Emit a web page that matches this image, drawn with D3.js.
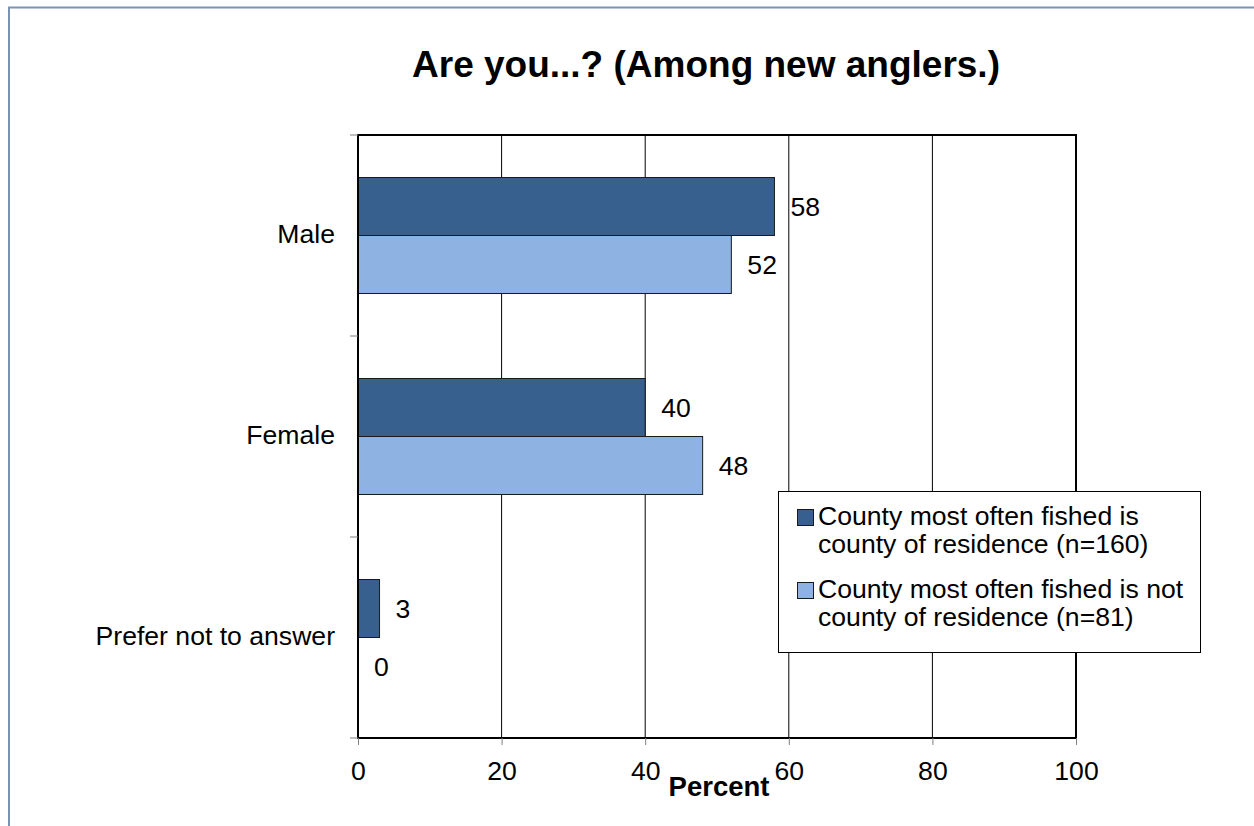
<!DOCTYPE html>
<html>
<head>
<meta charset="utf-8">
<script src="https://cdn.jsdelivr.net/npm/d3@7"></script>
<style>
  html, body { margin: 0; padding: 0; background: #ffffff; }
  svg { display: block; }
  text { font-family: "Liberation Sans", Arial, sans-serif; fill: #000; }
</style>
</head>
<body>
<svg id="chart" width="1254" height="826"></svg>
<script>
// Survey answers, percent of respondents
const categories = ["Male", "Female", "Prefer not to answer"];
const seriesNames = [
  ["County most often fished is", "county of residence (n=160)"],
  ["County most often fished is not", "county of residence (n=81)"]
];
const residentValues = [58, 40, 3];
const nonResidentValues = [52, 48, 0];
const xTickValues = [0, 20, 40, 60, 80, 100];
const titleText = "Are you...? (Among new anglers.)";
const xAxisTitle = "Percent";

const colors = ["#37608f", "#8eb3e2"];
const series = [residentValues, nonResidentValues];
const fontSize = "26.6px";

const svg = d3.select("#chart");

// outer chart frame (runs off the right and bottom edges)
svg.append("rect")
  .attr("x", 9).attr("y", 7.5)
  .attr("width", 1300).attr("height", 900)
  .attr("fill", "none")
  .attr("stroke", "#7a93b3")
  .attr("stroke-width", 2);

const plot = { left: 358, right: 1076, top: 135, bottom: 738 };

const x = d3.scaleLinear().domain([0, 100]).range([plot.left, plot.right]);
const y = d3.scaleBand().domain(categories)
  .range([plot.top, plot.bottom])
  .paddingInner(0.423).paddingOuter(0.2115);
const ySeries = d3.scaleBand().domain([0, 1]).range([0, y.bandwidth()]);

// title
svg.append("text")
  .attr("x", 706).attr("y", 77)
  .attr("text-anchor", "middle")
  .style("font-size", "37px").style("font-weight", "bold")
  .text(titleText);

// vertical gridlines
svg.append("g").selectAll("line")
  .data(xTickValues.filter(d => d > 0 && d < 100))
  .join("line")
  .attr("x1", d => x(d)).attr("x2", d => x(d))
  .attr("y1", plot.top).attr("y2", plot.bottom)
  .attr("stroke", "#000").attr("stroke-width", 1);

// bars
series.forEach((vals, si) => {
  svg.append("g").selectAll("rect")
    .data(vals.map((v, i) => ({ v, c: categories[i] })))
    .join("rect")
    .filter(d => d.v > 0)
    .attr("x", x(0))
    .attr("y", d => y(d.c) + ySeries(si))
    .attr("width", d => x(d.v) - x(0))
    .attr("height", ySeries.bandwidth())
    .attr("fill", colors[si])
    .attr("stroke", "#1a1a1a")
    .attr("stroke-width", 1);

  svg.append("g").selectAll("text")
    .data(vals.map((v, i) => ({ v, c: categories[i] })))
    .join("text")
    .attr("x", d => x(d.v) + 16)
    .attr("y", d => y(d.c) + ySeries(si) + ySeries.bandwidth() / 2)
    .attr("dy", "0.35em")
    .style("font-size", fontSize)
    .text(d => d3.format(".0f")(d.v));
});

// plot frame
svg.append("rect")
  .attr("x", plot.left).attr("y", plot.top)
  .attr("width", plot.right - plot.left).attr("height", plot.bottom - plot.top)
  .attr("fill", "none").attr("stroke", "#000").attr("stroke-width", 2);

// x axis
const xAxis = d3.axisBottom(x).tickValues(xTickValues).tickSize(7).tickPadding(16);
const gx = svg.append("g").attr("transform", `translate(0,${plot.bottom})`).call(xAxis);
gx.select(".domain").remove();
gx.selectAll(".tick line").attr("stroke", "#808080");
gx.selectAll(".tick text")
  .style("font-size", fontSize)
  .style("font-family", "'Liberation Sans', Arial, sans-serif")
  .attr("fill", "#000");

svg.append("text")
  .attr("x", 719).attr("y", 796)
  .attr("text-anchor", "middle")
  .style("font-size", "27.5px").style("font-weight", "bold")
  .text(xAxisTitle);

// y axis: ticks on category boundaries, labels centred in bands
const boundaries = d3.range(categories.length + 1).map(i => plot.top + i * y.step());
svg.append("g").selectAll("line")
  .data(boundaries)
  .join("line")
  .attr("x1", plot.left - 8).attr("x2", plot.left)
  .attr("y1", d => d).attr("y2", d => d)
  .attr("stroke", "#808080").attr("stroke-width", 1);

svg.append("g").selectAll("text")
  .data(categories)
  .join("text")
  .attr("x", 335)
  .attr("y", d => y(d) + y.bandwidth() / 2)
  .attr("dy", "0.3em")
  .attr("text-anchor", "end")
  .style("font-size", fontSize)
  .text(d => d);

// legend
const legend = svg.append("g");
legend.append("rect")
  .attr("x", 778.5).attr("y", 491.5)
  .attr("width", 422).attr("height", 161)
  .attr("fill", "#fff").attr("stroke", "#000").attr("stroke-width", 1);

const legendRows = [525, 598];
seriesNames.forEach((lines, si) => {
  const base = legendRows[si];
  legend.append("rect")
    .attr("x", 797.5).attr("y", base - 15.5)
    .attr("width", 16).attr("height", 16)
    .attr("fill", colors[si]).attr("stroke", "#1a1a1a").attr("stroke-width", 1);
  const t = legend.append("text")
    .attr("x", 818).attr("y", base)
    .style("font-size", fontSize);
  lines.forEach((ln, li) => {
    t.append("tspan").attr("x", 818).attr("dy", li === 0 ? 0 : 27.5).text(ln);
  });
});
</script>
</body>
</html>
